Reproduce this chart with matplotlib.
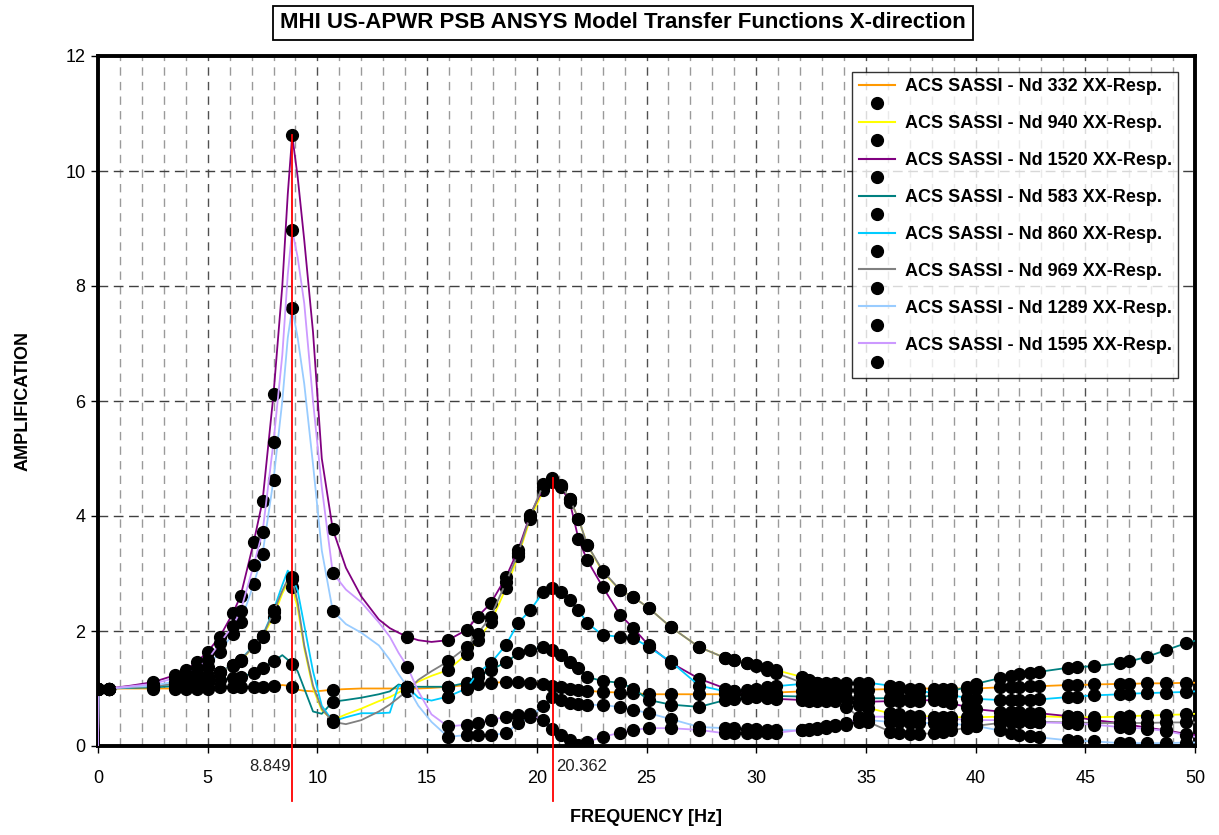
import numpy as np
import matplotlib
matplotlib.use("Agg")
import matplotlib.pyplot as plt
from matplotlib.lines import Line2D

plt.rcParams['font.family'] = ['Liberation Sans', 'DejaVu Sans']

# ---------------- data ----------------
freq = ([0.0, 0.02, 0.5, 1.5, 2.5, 3.5, 4.0, 4.5, 5.0, 5.55, 6.15, 6.5, 7.1, 7.5, 8.0,
         8.4, 8.65, 8.85, 9.1, 9.4, 9.8, 10.2, 10.7, 11.3, 12.0, 12.8, 13.3, 13.7, 14.1,
         14.6, 15.2]
        + [15.95, 16.8, 17.3, 17.9, 18.6, 19.15, 19.7, 20.3, 20.7, 21.1, 21.5, 21.9, 22.3,
           23.0, 23.8, 24.4, 25.1, 26.1, 27.4]
        + [28.6, 29.0, 29.6, 30.0, 30.5, 30.9, 32.1, 32.4, 32.75, 33.2, 33.6, 34.1, 34.7,
           35.1, 36.1, 36.5, 37.0, 37.4, 38.1, 38.5, 38.9, 39.6, 40.0, 41.1, 41.6, 42.0,
           42.5, 42.9, 44.2, 44.6, 45.4, 46.6, 47.0, 47.8, 48.7, 49.6, 50.0])

# frequencies that only exist in the continuous (SASSI) curves, no ANSYS dot
sassi_only = [0.0, 1.5, 8.4, 8.65, 9.1, 9.4, 9.8, 10.2, 11.3, 12.0, 12.8, 13.3, 13.7,
              14.6, 15.2, 50.0]

series_labels = ["ACS SASSI - Nd 332 XX-Resp.", "ACS SASSI - Nd 940 XX-Resp.",
                 "ACS SASSI - Nd 1520 XX-Resp.", "ACS SASSI - Nd 583 XX-Resp.",
                 "ACS SASSI - Nd 860 XX-Resp.", "ACS SASSI - Nd 969 XX-Resp.",
                 "ACS SASSI - Nd 1289 XX-Resp.", "ACS SASSI - Nd 1595 XX-Resp."]

nd332 = ([0, 1.0, 1.0, 1.0, 1.0, 1.0, 1.0, 1.0, 1.0, 1.02, 1.02, 1.02, 1.03, 1.03, 1.04,
          1.06, 1.05, 1.02, 0.98, 0.96, 0.95, 0.96, 0.98, 0.99, 1.0, 1.0, 1.0, 1.0, 1.0,
          1.0, 1.01]
         + [1.03, 1.06, 1.07, 1.1, 1.11, 1.11, 1.1, 1.08, 1.05, 1.02, 1.0, 0.98, 0.96,
            0.94, 0.93, 0.92, 0.9, 0.9, 0.9]
         + [0.9, 0.9, 0.91, 0.92, 0.93, 0.93, 0.95, 0.95, 0.96, 0.96, 0.97, 0.97, 0.98,
            0.98, 0.99, 0.99, 1.0, 1.0, 1.0, 1.0, 1.0, 1.0, 1.0, 1.02, 1.03, 1.03, 1.04,
            1.04, 1.06, 1.06, 1.07, 1.08, 1.08, 1.09, 1.09, 1.1, 1.1])

nd940 = ([0, 1.0, 1.0, 1.02, 1.04, 1.08, 1.12, 1.17, 1.22, 1.29, 1.4, 1.48, 1.73, 1.9,
          2.25, 2.65, 2.85, 2.77, 2.4, 1.7, 1.0, 0.62, 0.45, 0.55, 0.65, 0.78, 0.85, 0.93,
          1.02, 1.12, 1.22]
         + [1.32, 1.6, 1.85, 2.15, 2.75, 3.3, 3.95, 4.45, 4.6, 4.52, 4.3, 3.95, 3.5, 3.03,
            2.71, 2.59, 2.4, 2.07, 1.72]
         + [1.53, 1.5, 1.44, 1.41, 1.38, 1.32, 1.2, 1.15, 1.1, 1.0, 0.92, 0.82, 0.72, 0.66,
            0.57, 0.55, 0.53, 0.52, 0.51, 0.5, 0.5, 0.5, 0.5, 0.51, 0.52, 0.52, 0.52, 0.52,
            0.5, 0.5, 0.5, 0.51, 0.52, 0.53, 0.54, 0.55, 0.56])

nd1520 = ([0, 1.0, 1.0, 1.05, 1.11, 1.23, 1.32, 1.46, 1.64, 1.9, 2.31, 2.61, 3.55, 4.26,
           6.12, 8.0, 9.6, 10.62, 9.9, 8.8, 7.2, 5.0, 3.77, 3.1, 2.6, 2.2, 2.05, 1.97, 1.9,
           1.84, 1.81]
          + [1.84, 2.02, 2.25, 2.48, 2.94, 3.41, 4.02, 4.5, 4.62, 4.5, 4.25, 3.6, 3.23,
             2.77, 2.28, 2.05, 1.75, 1.45, 1.17]
          + [1.0, 0.95, 0.9, 0.87, 0.84, 0.82, 0.8, 0.79, 0.79, 0.78, 0.78, 0.77, 0.77,
             0.77, 0.78, 0.78, 0.79, 0.79, 0.8, 0.78, 0.74, 0.68, 0.64, 0.6, 0.6, 0.59,
             0.58, 0.57, 0.52, 0.5, 0.45, 0.4, 0.37, 0.32, 0.27, 0.21, 0.19])

nd583 = ([0, 1.0, 1.0, 1.01, 1.02, 1.04, 1.05, 1.08, 1.1, 1.15, 1.18, 1.2, 1.27, 1.36,
          1.47, 1.58, 1.5, 1.43, 1.3, 1.0, 0.6, 0.56, 0.77, 0.8, 0.84, 0.9, 0.95, 1.07,
          1.03, 1.03, 1.03]
         + [1.03, 1.1, 1.2, 1.32, 1.46, 1.61, 1.67, 1.72, 1.67, 1.58, 1.46, 1.36, 1.2,
            1.13, 1.1, 1.0, 0.8, 0.72, 0.68]
         + [0.8, 0.82, 0.84, 0.85, 0.86, 0.87, 0.86, 0.85, 0.85, 0.84, 0.84, 0.83, 0.83,
            0.83, 0.83, 0.83, 0.84, 0.85, 0.88, 0.91, 0.95, 1.03, 1.08, 1.18, 1.22, 1.25,
            1.27, 1.29, 1.36, 1.37, 1.39, 1.44, 1.47, 1.55, 1.67, 1.79, 1.83])

nd860 = ([0, 1.0, 1.0, 1.02, 1.04, 1.08, 1.12, 1.17, 1.22, 1.29, 1.41, 1.5, 1.75, 1.92,
          2.36, 2.8, 3.05, 2.94, 2.7, 2.1, 1.3, 0.7, 0.43, 0.5, 0.57, 0.57, 0.58, 1.05,
          1.03, 0.84, 0.79]
         + [0.86, 1.0, 1.27, 1.44, 1.76, 2.14, 2.36, 2.68, 2.75, 2.68, 2.54, 2.36, 2.14,
            1.93, 1.9, 1.88, 1.72, 1.47, 1.05]
         + [0.95, 0.96, 0.97, 0.99, 1.02, 1.04, 1.08, 1.1, 1.1, 1.1, 1.1, 1.1, 1.1, 1.1,
            1.05, 1.02, 0.98, 0.96, 0.92, 0.9, 0.88, 0.84, 0.82, 0.8, 0.8, 0.8, 0.8, 0.81,
            0.85, 0.86, 0.88, 0.9, 0.91, 0.92, 0.93, 0.94, 0.95])

nd969 = ([0, 1.0, 1.0, 1.02, 1.04, 1.08, 1.12, 1.17, 1.22, 1.29, 1.41, 1.49, 1.74, 1.91,
          2.33, 2.7, 2.9, 2.9, 2.5, 1.75, 1.05, 0.65, 0.42, 0.38, 0.45, 0.6, 0.72, 0.84,
          0.96, 1.15, 1.3]
         + [1.47, 1.72, 1.95, 2.25, 2.85, 3.35, 4.0, 4.55, 4.66, 4.54, 4.3, 3.95, 3.5,
            3.05, 2.71, 2.59, 2.4, 2.07, 1.72]
         + [1.53, 1.5, 1.44, 1.4, 1.33, 1.27, 1.1, 1.05, 0.98, 0.88, 0.8, 0.68, 0.5, 0.42,
            0.25, 0.22, 0.21, 0.21, 0.22, 0.24, 0.27, 0.32, 0.35, 0.4, 0.42, 0.42, 0.42,
            0.42, 0.41, 0.41, 0.4, 0.4, 0.4, 0.4, 0.41, 0.41, 0.41])

nd1289 = ([0, 1.0, 1.0, 1.03, 1.05, 1.12, 1.18, 1.27, 1.38, 1.64, 1.95, 2.16, 2.82, 3.34,
           4.63, 6.0, 7.1, 7.62, 7.1, 6.3, 4.9, 3.4, 2.35, 2.12, 1.97, 1.75, 1.5, 1.25,
           1.03, 0.7, 0.42]
          + [0.16, 0.19, 0.19, 0.19, 0.22, 0.4, 0.5, 0.7, 0.85, 0.8, 0.75, 0.73, 0.72,
             0.71, 0.68, 0.63, 0.57, 0.47, 0.33]
          + [0.31, 0.31, 0.3, 0.29, 0.28, 0.28, 0.27, 0.28, 0.3, 0.32, 0.34, 0.37, 0.42,
             0.45, 0.42, 0.41, 0.4, 0.4, 0.4, 0.39, 0.38, 0.37, 0.35, 0.27, 0.23, 0.2,
             0.17, 0.15, 0.1, 0.09, 0.08, 0.05, 0.05, 0.05, 0.05, 0.06, 0.06])

nd1595 = ([0, 1.0, 1.0, 1.04, 1.08, 1.18, 1.25, 1.36, 1.5, 1.79, 2.09, 2.35, 3.15, 3.72,
           5.29, 6.8, 8.2, 8.97, 8.5, 7.7, 6.0, 4.5, 3.01, 2.72, 2.5, 2.15, 1.9, 1.62,
           1.38, 0.95, 0.55]
          + [0.34, 0.37, 0.4, 0.45, 0.51, 0.54, 0.55, 0.45, 0.3, 0.19, 0.1, 0.02, 0.07,
             0.16, 0.23, 0.28, 0.31, 0.31, 0.28]
          + [0.22, 0.22, 0.22, 0.22, 0.22, 0.23, 0.28, 0.3, 0.32, 0.34, 0.36, 0.4, 0.47,
             0.51, 0.51, 0.5, 0.5, 0.49, 0.49, 0.48, 0.47, 0.46, 0.45, 0.45, 0.44, 0.43,
             0.42, 0.41, 0.4, 0.39, 0.37, 0.33, 0.32, 0.3, 0.26, 0.19, 0.16])

series_values = [nd332, nd940, nd1520, nd583, nd860, nd969, nd1289, nd1595]
series_colors = ["#FF9900", "#FFFF00", "#800080", "#008080",
                 "#00CCFF", "#808080", "#99CCFF", "#CC99FF"]

peak_line_freq = [8.85, 20.72]
peak_line_top = [10.62, 4.66]
peak_labels = ["8.849", "20.362"]

title = "MHI US-APWR PSB ANSYS Model Transfer Functions X-direction"
xlabel = "FREQUENCY [Hz]"
ylabel = "AMPLIFICATION"

# ---------------- plotting ----------------
W, H = 1219, 835
fig = plt.figure(figsize=(W / 100, H / 100), dpi=100)
ax = fig.add_axes([98 / W, (H - 746) / H, (1195 - 98) / W, (746 - 56) / H])

f = np.array(freq)
dot_mask = ~np.isin(f, sassi_only)

for vals, col, lab in zip(series_values, series_colors, series_labels):
    v = np.array(vals)
    assert len(v) == len(f), (lab, len(v), len(f))
    ax.plot(f, v, color=col, lw=1.3, zorder=3)
    ax.plot(f[dot_mask], v[dot_mask], ls="none", marker="o", ms=8.5,
            mfc="black", mec="black", zorder=3)

for xf, top, lab in zip(peak_line_freq, peak_line_top, peak_labels):
    ax.plot([xf, xf], [-0.95, top], color="red", lw=1.3, zorder=4, clip_on=False)
    if xf < 15:
        ax.text(xf - 0.08, -0.22, lab, ha="right", va="top", fontsize=12, color="#222222")
    else:
        ax.text(xf + 0.15, -0.22, lab, ha="left", va="top", fontsize=12, color="#222222")

ax.set_xlim(0, 50)
ax.set_ylim(0, 12)
ax.set_xticks(np.arange(0, 51, 5))
ax.set_xticks(np.arange(0, 51, 1), minor=True)
ax.set_yticks(np.arange(0, 13, 2))
ax.tick_params(axis="both", which="major", direction="out", length=5, width=1,
               labelsize=13, pad=4)
ax.tick_params(axis="x", which="minor", length=0)
ax.tick_params(axis="x", which="major", pad=12)

ax.grid(which="minor", axis="x", color="#9a9a9a", lw=1.0, ls=(0, (6, 4.5)), zorder=1)
ax.grid(which="major", axis="x", color="#505050", lw=1.0, ls=(0, (6, 4.5)), zorder=1)
ax.grid(which="major", axis="y", color="#404040", lw=1.0, ls=(0, (7, 4)), zorder=1)
ax.set_axisbelow(True)

for s in ax.spines.values():
    s.set_linewidth(2.8)
    s.set_color("black")

ax.set_xlabel(xlabel, fontsize=13, fontweight="bold", labelpad=16)
ax.set_ylabel(ylabel, fontsize=13, fontweight="bold", labelpad=24)

# title in a framed box
fig.text(623 / W, 1 - 23 / H, title, ha="center", va="center", fontsize=16,
         fontweight="bold",
         bbox=dict(boxstyle="square,pad=0.3", fc="white", ec="black", lw=1.3))

# legend: a line entry and a dot entry per series
handles, labels = [], []
for col, lab in zip(series_colors, series_labels):
    handles.append(Line2D([], [], color=col, lw=1.5))
    labels.append(lab)
    handles.append(Line2D([], [], ls="none", marker="o", ms=8.5, mfc="black", mec="black"))
    labels.append(" ")
leg = ax.legend(handles, labels, loc="upper right",
                bbox_to_anchor=(1178 / W, 1 - 72 / H), bbox_transform=fig.transFigure,
                borderaxespad=0, frameon=True, fancybox=False,
                prop=dict(weight="bold", size=13), handlelength=2.0, handletextpad=0.55,
                labelspacing=0.08, borderpad=0.35)
leg.get_frame().set_edgecolor("black")
leg.get_frame().set_linewidth(1.0)
leg.set_zorder(6)

fig.savefig("out.png", dpi=100)
